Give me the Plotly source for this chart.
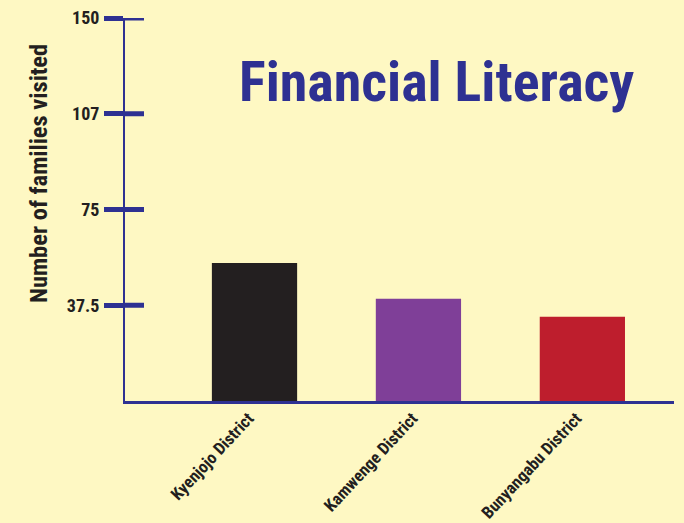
import plotly.graph_objects as go

categories = ["Kyenjojo District", "Kamwenge District", "Bunyangabu District"]
families_visited = [54, 40, 33]
bar_colors = ["#231F20", "#7F3F98", "#BE1E2D"]
tick_values = [37.5, 75, 112.5, 150]
tick_labels = ["37.5", "75", "107", "150"]

BLUE = "#2E3192"
BG = "#FEF8C3"
FONT = "Roboto Condensed, Liberation Sans Narrow, Roboto, sans-serif"
TEXT = "#231F20"

fig = go.Figure(
    go.Bar(
        x=categories,
        y=families_visited,
        marker=dict(color=bar_colors, line=dict(width=0)),
        width=0.52,
    )
)

shapes = []
for v in tick_values:
    shapes.append(dict(type="line", xref="x domain", yref="y",
                       x0=0, x1=19 / 549, y0=v, y1=v,
                       line=dict(color=BLUE, width=5)))

fig.update_layout(
    width=684, height=523,
    margin=dict(l=125, r=10, t=18, b=122, autoexpand=False),
    paper_bgcolor=BG, plot_bgcolor=BG,
    showlegend=False,
    shapes=shapes,
    xaxis=dict(
        range=[-0.79, 2.559], automargin=False,
        showline=True, linecolor=BLUE, linewidth=2.5,
        showgrid=False, zeroline=False, ticks="",
        tickangle=-47, ticklabelshift=-6, ticklabelstandoff=-2,
        tickfont=dict(family=FONT, size=17, color=TEXT, weight="bold"),
    ),
    yaxis=dict(
        range=[0, 150], automargin=False,
        showline=True, linecolor=BLUE, linewidth=2,
        showgrid=False, zeroline=False,
        tickmode="array", tickvals=tick_values, ticktext=tick_labels,
        ticks="outside", ticklen=19, tickwidth=5, tickcolor=BLUE,
        ticklabelstandoff=1,
        tickfont=dict(family=FONT, size=18, color=TEXT, weight="bold"),
    ),
    annotations=[
        dict(text="Financial Literacy", xref="paper", yref="paper",
             x=0.5665, y=0.833, xanchor="center", yanchor="middle",
             showarrow=False,
             font=dict(family=FONT, size=56, color=BLUE, weight="bold")),
        dict(text="Number of families visited", xref="paper", yref="paper",
             x=-0.1585, y=0.595, xanchor="center", yanchor="middle",
             textangle=-90, showarrow=False,
             font=dict(family=FONT, size=24.5, color=TEXT, weight="bold")),
    ],
)

fig.write_html("out.html", config={"displayModeBar": False},
               post_script="document.body.style.margin='0';")
